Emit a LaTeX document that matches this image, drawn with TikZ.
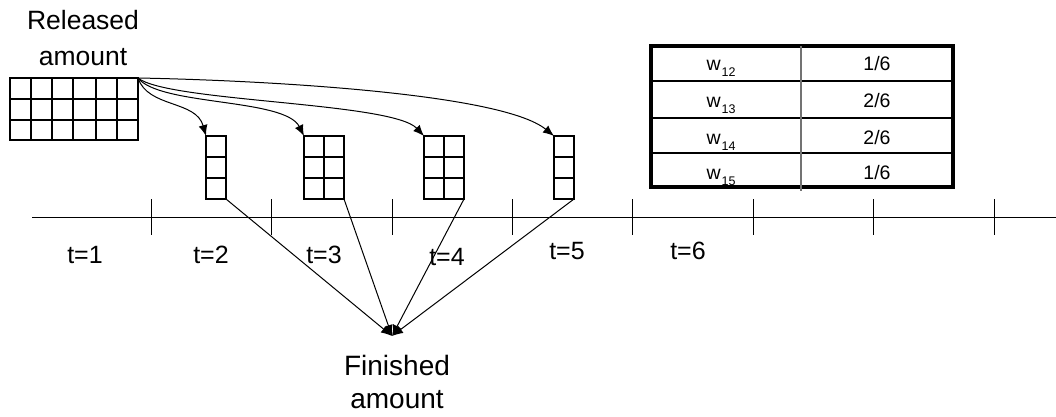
\documentclass[tikz,border=0pt]{standalone}
\usepackage{fontspec}
\setmainfont{Liberation Sans}
\usetikzlibrary{arrows.meta}
\begin{document}
\begin{tikzpicture}[x=1pt,y=-1pt,
  cell/.style={line width=1.3pt},
  store/.style={draw,cell,inner sep=0pt,outer sep=0pt,anchor=north west,minimum height=63pt},
  flow/.style={line width=1pt,-{Latex[length=11pt,width=9pt]}},
  tlabel/.style={anchor=base,inner sep=0pt,font=\fontsize{25}{30}\selectfont},
  tabtext/.style={anchor=base,inner sep=0pt,font=\fontsize{19.5}{24}\selectfont},
  caption/.style={anchor=base,inner sep=0pt,align=center}
]
\useasboundingbox (0,0) rectangle (1056,416);

% released amount: 6 x 3 grid
\node[store,minimum width=128pt,minimum height=62pt] (rel) at (10,78) {};
\foreach \x in {31,52,73,96,117} \draw[cell] (\x,78) -- (\x,140);
\foreach \y in {99,120} \draw[cell] (10,\y) -- (138,\y);
\node[caption,font=\fontsize{26.5}{36}\selectfont] (reltext) at (83,65) {Released\\amount};

% per-period stores
\node[store,minimum width=20pt] (b1) at (206,136) {};
\node[store,minimum width=40pt] (b2) at (304,136) {};
\node[store,minimum width=40pt] (b3) at (424,136) {};
\node[store,minimum width=20pt] (b4) at (554,136) {};
\foreach \xa/\xb in {206/226,304/344,424/464,554/574}
  \foreach \y in {157,178} \draw[cell] (\xa,\y) -- (\xb,\y);
\draw[cell] (324,136) -- (324,199);
\draw[cell] (444,136) -- (444,199);

% release flows
\draw[flow] (rel.north east) .. controls (148,108) and (196,100) .. (b1.north west);
\draw[flow] (rel.north east) .. controls (160,106) and (285,98) .. (b2.north west);
\draw[flow] (rel.north east) .. controls (168,102) and (392,102) .. (b3.north west);
\draw[flow] (rel.north east) .. controls (250,80) and (500,92) .. (b4.north west);

% time axis
\draw[line width=1pt] (32,217) -- (1056,217);
\foreach \x in {151,271,392,512,632,753,873,994}
  \draw[line width=1pt] (\x,199) -- (\x,235);
\node[tlabel] (t1) at (85,263) {t=1};
\node[tlabel] (t2) at (211,263) {t=2};
\node[tlabel] (t3) at (324,263) {t=3};
\node[tlabel] (t4) at (447,265) {t=4};
\node[tlabel] (t5) at (567,259) {t=5};
\node[tlabel] (t6) at (688,259) {t=6};

% finished amount
\coordinate (fin) at (392,336);
\draw[flow] (b1.south east) -- (fin);
\draw[flow] (b2.south east) -- (fin);
\draw[flow] (b3.south east) -- (fin);
\draw[flow] (b4.south east) -- (fin);
\node[caption,font=\fontsize{28}{33}\selectfont] (fintext) at (397,408) {Finished\\amount};

% weight table
\node[draw,line width=4pt,inner sep=0pt,outer sep=0pt,anchor=north west,
      minimum width=302pt,minimum height=141pt] (tab) at (651,46) {};
\foreach \y in {81,118,153} \draw[line width=1.3pt] (651,\y) -- (953,\y);
\draw[line width=1.8pt,black!55] (801,46) -- (801,191);
\foreach \r/\y/\v in {12/70/1\slash 6,13/107/2\slash 6,14/144/2\slash 6,15/179/1\slash 6} {
  \node[tabtext] (w\r) at (721,\y) {w\kern1pt\raisebox{-6pt}{\fontsize{12.5}{14}\selectfont\r}};
  \node[tabtext] (v\r) at (877,\y) {\v};
}
\end{tikzpicture}
\end{document}
